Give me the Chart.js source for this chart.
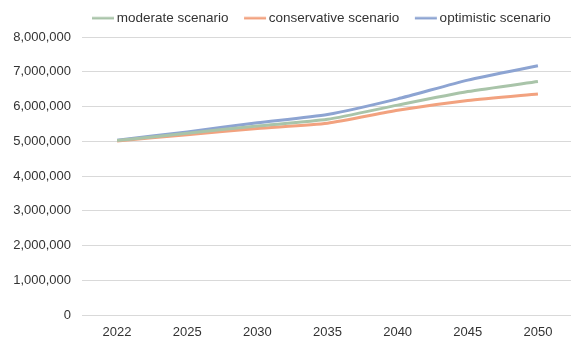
<!DOCTYPE html>
<html><head><meta charset="utf-8">
<script src="https://cdn.jsdelivr.net/npm/chart.js@4.4.0/dist/chart.umd.min.js"></script>
<style>
html,body{margin:0;padding:0;overflow:hidden;background:#fff;width:571px;height:340px}
#wrap{position:absolute;left:0;top:0;width:576px;height:340px}
</style>
</head><body>
<div id="wrap"><canvas id="c" width="576" height="340"></canvas></div>
<script>
const years = ['2022', '2025', '2030', '2035', '2040', '2045', '2050'];
const moderate = [5020000, 5230000, 5440000, 5630000, 6040000, 6430000, 6720000];
const conservative = [5010000, 5190000, 5370000, 5520000, 5890000, 6170000, 6360000];
const optimistic = [5030000, 5270000, 5530000, 5770000, 6220000, 6760000, 7170000];
const seriesNames = ['moderate scenario', 'conservative scenario', 'optimistic scenario'];
const seriesColors = ['#A9C4A9', '#F2A27F', '#8DA4D2'];
const yTicks = [0, 1000000, 2000000, 3000000, 4000000, 5000000, 6000000, 7000000, 8000000];

const FONT = {family: "'Liberation Sans', Arial, sans-serif", size: 13};
const LEGEND_FONT = {family: "'Liberation Sans', Arial, sans-serif", size: 13.5};
const TEXT = '#333333';

function swatch(color) {
  const c = document.createElement('canvas');
  c.width = 30; c.height = 4;
  const g = c.getContext('2d');
  g.strokeStyle = color; g.lineWidth = 2.5;
  g.beginPath(); g.moveTo(7, 2); g.lineTo(29, 2); g.stroke();
  return c;
}

const series = [moderate, conservative, optimistic];
const datasets = series.map((d, i) => ({
  label: seriesNames[i],
  data: d,
  borderColor: seriesColors[i],
  backgroundColor: seriesColors[i],
  borderWidth: 3,
  pointRadius: 0,
  pointHoverRadius: 0,
  tension: 0.2,
  fill: false
}));

const legendPos = {
  id: 'legendPos',
  afterLayout(chart) {
    if (chart.legend) { chart.legend.left = 76.5; chart.legend.top = -2; }
  }
};

new Chart(document.getElementById('c'), {
  type: 'line',
  data: {labels: years, datasets},
  plugins: [legendPos],
  options: {
    responsive: false,
    animation: false,
    devicePixelRatio: 1,
    layout: {padding: {left: 0, right: 3, top: 0, bottom: 0}},
    plugins: {
      tooltip: {enabled: false},
      legend: {
        position: 'top',
        align: 'start',
        labels: {
          font: LEGEND_FONT,
          color: TEXT,
          usePointStyle: true,
          pointStyleWidth: 20,
          padding: 13.5,
          generateLabels(chart) {
            const items = Chart.defaults.plugins.legend.labels.generateLabels(chart);
            items.forEach((it, i) => { it.pointStyle = swatch(seriesColors[i]); });
            return items;
          }
        }
      }
    },
    scales: {
      x: {
        offset: true,
        grid: {display: false, drawTicks: false},
        border: {display: false},
        ticks: {font: FONT, color: TEXT, padding: 10, maxRotation: 0},
        afterFit(s) { s.height = 25; }
      },
      y: {
        min: 0, max: 8000000,
        afterBuildTicks(s) { s.ticks = yTicks.map(v => ({value: v})); },
        grid: {color: '#D9D9D9', lineWidth: 1, drawTicks: false},
        border: {display: false},
        ticks: {
          font: FONT, color: TEXT, padding: 11,
          callback: v => Number(v).toLocaleString('en-US')
        },
        afterFit(s) { s.width = 82; }
      }
    }
  }
});
</script>
</body></html>
